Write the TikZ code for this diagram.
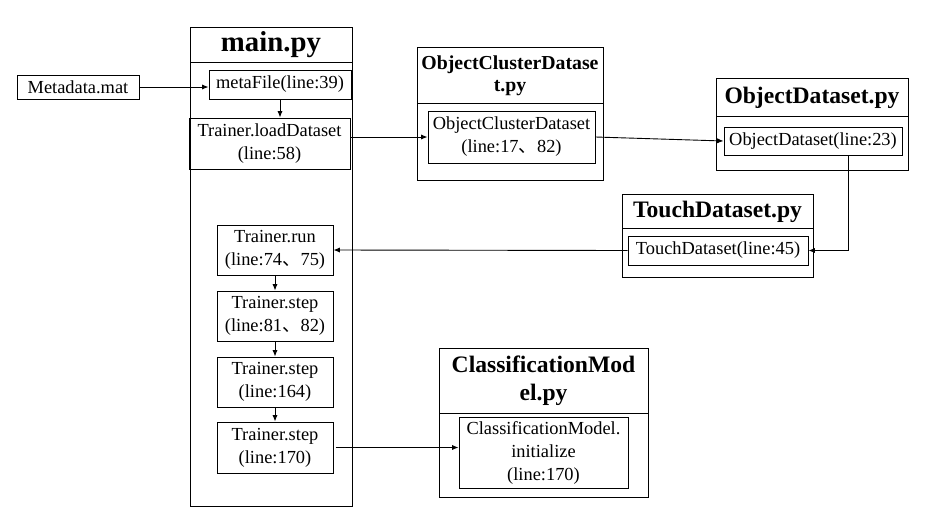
\documentclass[tikz,border=0pt]{standalone}
\usepackage{fontspec}
\setmainfont{Liberation Serif}
\newfontfamily\cjk{Noto Sans CJK SC}
\usetikzlibrary{arrows.meta}

\tikzset{
  box/.style={draw, line width=0.5pt, align=center, inner sep=0pt, font=\fontsize{9.2}{11.5}\selectfont},
  frame/.style={draw, line width=0.5pt},
  title/.style={align=center, font=\bfseries\fontsize{11.8}{14}\selectfont},
  link/.style={-{Latex[length=3.2pt,width=2.6pt]}, line width=0.45pt}
}
\newcommand{\dun}{{\cjk 、}}

\begin{document}
\begin{tikzpicture}[x=0.5pt,y=-0.5pt]
\useasboundingbox (0,0) rectangle (933,520);
% frames of the files
\draw[frame] (190,27) rectangle (352,506) (190,62) -- (352,62);
\draw[frame] (417,47) rectangle (603,180) (417,103) -- (603,103);
\draw[frame] (716,78) rectangle (908,170) (716,116) -- (908,116);
\draw[frame] (622,194) rectangle (813,277) (622,228) -- (813,228);
\draw[frame] (439,348) rectangle (648,497) (439,413) -- (648,413);
\node[title, font=\bfseries\fontsize{14.4}{17}\selectfont] (mainpy) at (271,44.5) {main.py};
\node[title, font=\bfseries\fontsize{9.9}{11}\selectfont] (ocdpy) at (510,76) {ObjectClusterDatase\\t.py};
\node[title] (odpy) at (812,97.5) {ObjectDataset.py};
\node[title] (tdpy) at (717.5,211.5) {TouchDataset.py};
\node[title] (cmpy) at (543.5,381) {ClassificationMod\\el.py};

% calls
\node[box, minimum width=61pt, minimum height=12pt] (metadata) at (78,87) {Metadata.mat};
\node[box, minimum width=71pt, minimum height=14.5pt] (metafile) at (280,84.5) {metaFile(line:39)};
\node[box, minimum width=80.5pt, minimum height=25.5pt] (loaddata) at (269.5,143.5) {Trainer.loadDataset\\(line:58)};
\node[box, minimum width=83.5pt, minimum height=26pt] (ocd) at (511.5,137) {ObjectClusterDataset\\(line:17\dun82)};
\node[box, minimum width=89pt, minimum height=14pt] (od) at (813,141) {ObjectDataset(line:23)};
\node[box, minimum width=90pt, minimum height=14.5pt] (td) at (718,250.5) {TouchDataset(line:45)};
\node[box, minimum width=58pt, minimum height=25pt] (run) at (275,250) {Trainer.run\\(line:74\dun75)};
\node[box, minimum width=58pt, minimum height=25pt] (stepa) at (275,316) {Trainer.step\\(line:81\dun82)};
\node[box, minimum width=58pt, minimum height=25pt] (stepb) at (275,382) {Trainer.step\\(line:164)};
\node[box, minimum width=58pt, minimum height=25.5pt] (stepc) at (275,447.5) {Trainer.step\\(line:170)};
\node[box, minimum width=84.5pt, minimum height=35.5pt] (cm) at (543.5,452.5) {ClassificationModel.\\initialize\\(line:170)};

\draw[link] (metadata.east) -- (metadata.east -| metafile.west);
\draw[link] (metafile.south) -- (metafile.south |- loaddata.north);
\draw[link] (loaddata.east |- ocd.west) -- (ocd.west);
\draw[link] (ocd.east) -- (od.west);
\draw[link] ([xshift=17.5pt]od.south) |- (td.east);
\draw[link] (td.west) -- (run.east);
\foreach \a/\b in {run/stepa, stepa/stepb, stepb/stepc}
\draw[link] (\a) -- (\b);
\draw[link] ([xshift=1pt]stepc.east) -- (stepc.east -| cm.west);
\end{tikzpicture}
\end{document}
